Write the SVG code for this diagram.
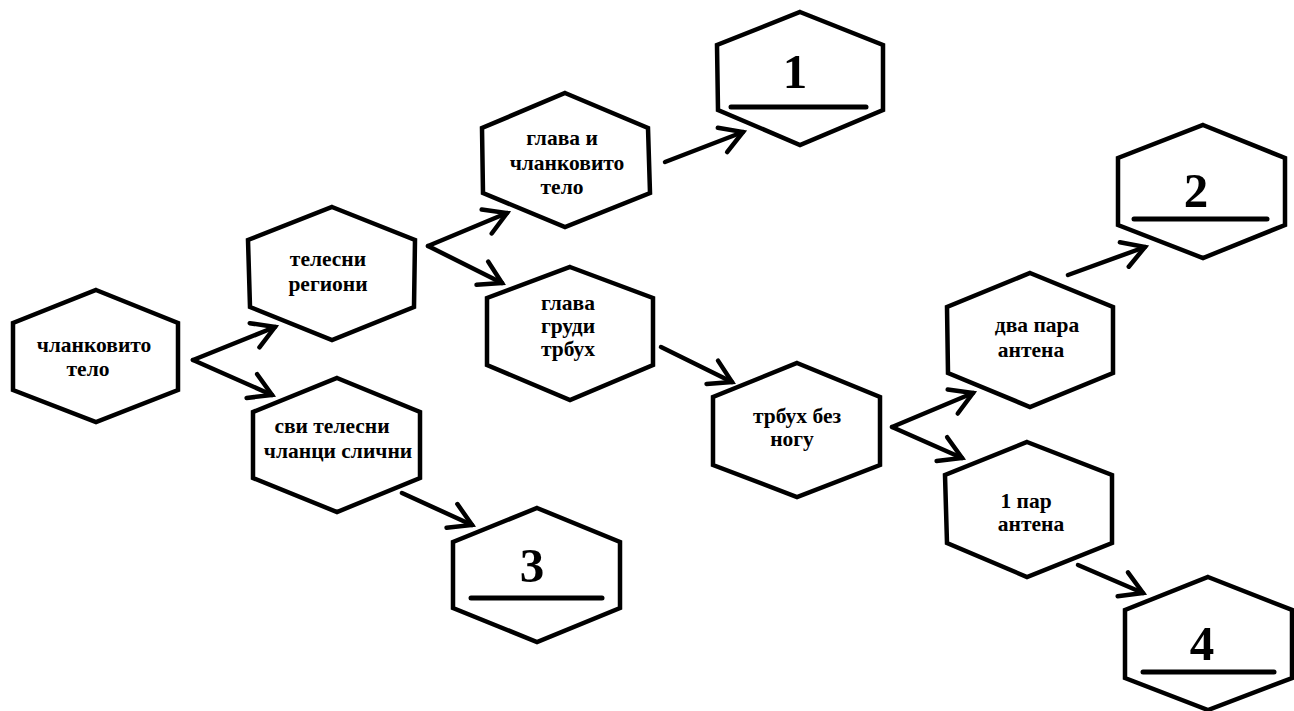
<svg xmlns="http://www.w3.org/2000/svg" width="1294" height="711" viewBox="0 0 1294 711">
<defs>
<style>
.hex{fill:#fff;stroke:#000;stroke-width:4.5;stroke-linejoin:miter}
.lbl{font-family:"Liberation Serif","Times New Roman",serif;font-weight:bold;font-size:21.5px;fill:#000;text-anchor:middle}
.num{font-family:"Liberation Serif","Times New Roman",serif;font-weight:bold;font-size:49px;fill:#000;text-anchor:middle}
.ul{stroke:#000;stroke-width:5;stroke-linecap:round}
.arr{stroke:#000;stroke-width:4.5;fill:none;stroke-linecap:round;marker-end:url(#ah)}
</style>
<marker id="ah" markerUnits="userSpaceOnUse" markerWidth="40" markerHeight="40" refX="0" refY="0" viewBox="-30 -20 40 40" orient="auto" overflow="visible">
<path d="M-22,-13 L0,0 L-22,13" fill="none" stroke="#000" stroke-width="4.5" stroke-linecap="round" stroke-linejoin="miter"/>
</marker>
</defs>
<rect width="1294" height="711" fill="#fff"/>
<g id="connectors">
<line class="arr" x1="193" y1="360" x2="275" y2="327"/>
<line class="arr" x1="193" y1="360" x2="272" y2="395"/>
<line class="arr" x1="428" y1="246" x2="507" y2="213"/>
<line class="arr" x1="428" y1="246" x2="502" y2="283"/>
<line class="arr" x1="665" y1="162" x2="743" y2="132"/>
<line class="arr" x1="661" y1="347" x2="732" y2="382"/>
<line class="arr" x1="402" y1="493" x2="472" y2="525"/>
<line class="arr" x1="892" y1="427" x2="973" y2="393"/>
<line class="arr" x1="892" y1="427" x2="962" y2="458"/>
<line class="arr" x1="1068" y1="275" x2="1145" y2="247"/>
<line class="arr" x1="1078" y1="565" x2="1143" y2="593"/>
</g>
<g id="n-chlankovito">
<polygon class="hex" points="96,290 178,323 178,390 96,422 13,390 13,323"/>
<text class="lbl" x="94" y="352">чланковито</text>
<text class="lbl" x="88" y="376">тело</text>
</g>
<g id="n-telesni-regioni">
<polygon class="hex" points="332,207 415,240 414,307 332,340 250,307 248,240"/>
<text class="lbl" x="328" y="266">телесни</text>
<text class="lbl" x="328" y="291">региони</text>
</g>
<g id="n-glava-i">
<polygon class="hex" points="565,93 648,128 650,193 565,227 483,193 482,128"/>
<text class="lbl" x="562" y="145">глава и</text>
<text class="lbl" x="567" y="170">чланковито</text>
<text class="lbl" x="562" y="194">тело</text>
</g>
<g id="n-1">
<polygon class="hex" points="800,12 883,45 883,110 800,145 718,110 717,45"/>
<text class="num" x="795" y="88">1</text>
<line class="ul" x1="731" y1="107" x2="866" y2="107"/>
</g>
<g id="n-glava-grudi">
<polygon class="hex" points="570,267 653,298 653,365 570,400 487,365 487,298"/>
<text class="lbl" x="568" y="310">глава</text>
<text class="lbl" x="568" y="333">груди</text>
<text class="lbl" x="568" y="356">трбух</text>
</g>
<g id="n-trbuh-bez">
<polygon class="hex" points="797,363 880,397 880,465 797,497 713,465 713,397"/>
<text class="lbl" x="797" y="423">трбух без</text>
<text class="lbl" x="792" y="446">ногу</text>
</g>
<g id="n-dva-para">
<polygon class="hex" points="1030,273 1113,307 1113,373 1030,407 948,373 947,307"/>
<text class="lbl" x="1037" y="332">два пара</text>
<text class="lbl" x="1031" y="357">антена</text>
</g>
<g id="n-2">
<polygon class="hex" points="1203,125 1285,158 1285,225 1203,258 1118,225 1118,158"/>
<text class="num" x="1196" y="207">2</text>
<line class="ul" x1="1134" y1="219" x2="1267" y2="219"/>
</g>
<g id="n-1-par">
<polygon class="hex" points="1027,442 1112,475 1112,543 1027,577 947,543 945,475"/>
<text class="lbl" x="1026" y="508">1 пар</text>
<text class="lbl" x="1031" y="531">антена</text>
</g>
<g id="n-4">
<polygon class="hex" points="1208,577 1292,610 1292,678 1208,710 1125,678 1125,610"/>
<text class="num" x="1202" y="660">4</text>
<line class="ul" x1="1143" y1="672" x2="1274" y2="672"/>
</g>
<g id="n-svi-telesni">
<polygon class="hex" points="337,378 420,412 420,478 337,512 253,478 253,412"/>
<text class="lbl" x="332" y="433">сви телесни</text>
<text class="lbl" x="338" y="458">чланци слични</text>
</g>
<g id="n-3">
<polygon class="hex" points="537,508 620,542 620,608 537,642 453,608 453,542"/>
<text class="num" x="532" y="582">3</text>
<line class="ul" x1="471" y1="598" x2="602" y2="598"/>
</g>
</svg>
